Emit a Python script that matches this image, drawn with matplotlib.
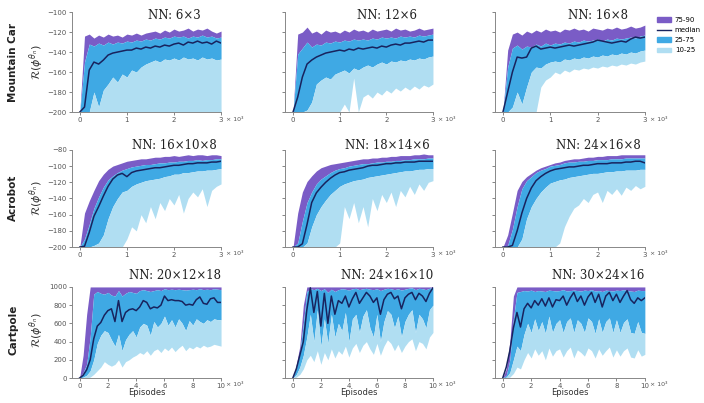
import numpy as np
import matplotlib
matplotlib.use("Agg")
import matplotlib.pyplot as plt
from matplotlib.patches import Patch
from matplotlib.lines import Line2D

# episode grids (x10^3)
x_short = [round(0.1 * i, 1) for i in range(31)]
x_long = [0.25 * i for i in range(41)]

# ---- Mountain Car ----
mc1_p90 = [-200, -124, -122, -126, -123, -125, -122, -124, -123, -125, -122, -123, -121, -123, -121, -120,
           -119, -121, -118, -120, -117, -119, -118, -116, -119, -117, -118, -116, -119, -121, -119]
mc1_p75 = [-200, -150, -132, -134, -131, -133, -130, -132, -130, -131, -129, -130, -128, -129, -127, -128,
           -126, -127, -125, -126, -124, -125, -124, -126, -124, -125, -123, -125, -124, -126, -125]
mc1_med = [-200, -195, -158, -150, -152, -148, -143, -141, -140, -139, -138, -138, -136, -137, -135, -136,
           -134, -135, -133, -134, -132, -131, -133, -130, -131, -129, -131, -130, -132, -129, -131]
mc1_p25 = [-200, -200, -200, -180, -195, -178, -172, -165, -170, -162, -165, -158, -160, -155, -152, -150,
           -148, -150, -147, -148, -146, -148, -145, -147, -146, -148, -145, -147, -146, -148, -147]
mc1_p10 = [-200] * 31

mc2_p90 = [-200, -122, -120, -115, -121, -119, -122, -118, -120, -119, -121, -118, -120, -117, -119, -118,
           -120, -117, -119, -118, -117, -119, -116, -118, -117, -119, -118, -116, -118, -117, -116]
mc2_p75 = [-200, -142, -136, -130, -135, -132, -133, -130, -131, -129, -130, -128, -129, -127, -128, -127,
           -128, -126, -127, -125, -126, -125, -126, -124, -125, -124, -125, -123, -124, -123, -122]
mc2_med = [-200, -185, -165, -152, -148, -145, -143, -141, -140, -139, -138, -139, -137, -138, -136, -137,
           -136, -135, -136, -134, -135, -133, -132, -133, -131, -131, -130, -129, -130, -128, -128]
mc2_p25 = [-200, -200, -200, -198, -190, -172, -168, -165, -167, -162, -160, -158, -161, -156, -158, -155,
           -153, -155, -152, -150, -152, -149, -150, -148, -149, -147, -148, -146, -147, -145, -144]
mc2_p10 = [-200, -200, -200, -200, -200, -200, -200, -200, -200, -200, -200, -192, -200, -166, -200, -185,
           -182, -186, -180, -183, -178, -181, -176, -179, -175, -178, -174, -177, -173, -175, -172]

mc3_p90 = [-200, -138, -122, -120, -123, -119, -121, -118, -120, -117, -119, -118, -120, -117, -118, -116,
           -118, -117, -119, -116, -117, -118, -116, -117, -115, -117, -116, -114, -116, -115, -113]
mc3_p75 = [-200, -155, -136, -133, -137, -134, -135, -132, -134, -131, -133, -131, -132, -130, -131, -129,
           -130, -128, -129, -128, -127, -129, -127, -128, -126, -127, -126, -125, -126, -124, -123]
mc3_med = [-200, -180, -160, -145, -146, -145, -136, -134, -137, -136, -135, -136, -135, -134, -133, -134,
           -133, -132, -131, -130, -128, -129, -130, -131, -130, -129, -130, -127, -125, -126, -125]
mc3_p25 = [-200, -200, -195, -180, -192, -175, -160, -155, -156, -152, -150, -149, -150, -147, -148, -146,
           -147, -145, -146, -144, -145, -143, -144, -142, -143, -141, -142, -140, -141, -139, -138]
mc3_p10 = [-200, -200, -200, -200, -200, -200, -200, -200, -175, -168, -165, -160, -162, -158, -160, -157,
           -158, -156, -157, -155, -156, -154, -155, -153, -154, -152, -153, -151, -152, -150, -149]

# ---- Acrobot ----
ac1_p90 = [-200, -158, -143, -130, -118, -110, -104, -100, -98, -96, -94, -93, -92, -91, -91, -90,
           -89, -89, -88, -88, -87, -88, -87, -86, -87, -86, -86, -87, -86, -86, -87]
ac1_p75 = [-200, -190, -172, -152, -138, -126, -117, -112, -108, -105, -103, -101, -100, -99, -98, -98,
           -97, -96, -96, -95, -95, -94, -94, -93, -93, -92, -93, -92, -92, -91, -91]
ac1_med = [-200, -199, -182, -162, -150, -137, -125, -116, -111, -109, -113, -108, -106, -105, -104, -103,
           -102, -102, -101, -100, -99, -99, -98, -97, -97, -96, -96, -96, -95, -95, -94]
ac1_p25 = [-200, -200, -200, -198, -195, -185, -165, -150, -140, -132, -130, -125, -122, -120, -118, -117,
           -116, -115, -113, -112, -110, -110, -108, -108, -107, -106, -106, -105, -105, -104, -103]
ac1_p10 = [-200, -200, -200, -200, -200, -200, -200, -200, -200, -200, -190, -175, -180, -160, -170, -150,
           -165, -145, -155, -140, -148, -135, -158, -140, -132, -138, -128, -150, -130, -125, -122]

ac2_p90 = [-200, -158, -132, -119, -112, -106, -102, -100, -98, -97, -96, -95, -94, -93, -92, -91,
           -91, -90, -90, -89, -89, -88, -88, -87, -87, -87, -86, -86, -85, -86, -86]
ac2_p75 = [-200, -195, -168, -145, -132, -122, -116, -112, -108, -105, -103, -102, -100, -99, -98, -97,
           -97, -96, -95, -95, -94, -94, -93, -93, -92, -92, -91, -91, -91, -90, -90]
ac2_med = [-200, -200, -196, -172, -145, -133, -126, -120, -115, -111, -108, -107, -105, -104, -103, -102,
           -100, -99, -99, -98, -97, -97, -96, -96, -95, -95, -95, -94, -94, -94, -94]
ac2_p25 = [-200, -200, -200, -195, -175, -160, -150, -142, -135, -130, -125, -122, -120, -118, -117, -116,
           -114, -113, -112, -111, -110, -109, -108, -107, -106, -106, -105, -104, -104, -103, -103]
ac2_p10 = [-200, -200, -200, -200, -200, -200, -200, -200, -200, -200, -195, -150, -165, -145, -170, -150,
           -175, -140, -155, -135, -145, -132, -150, -130, -138, -125, -135, -122, -130, -120, -118]

ac3_p90 = [-200, -185, -158, -130, -119, -113, -109, -105, -102, -100, -98, -96, -95, -93, -92, -91,
           -91, -90, -89, -89, -88, -88, -87, -87, -87, -86, -86, -86, -86, -86, -86]
ac3_p75 = [-200, -198, -178, -150, -128, -118, -113, -108, -105, -103, -100, -99, -98, -96, -95, -95,
           -94, -94, -93, -93, -92, -92, -92, -91, -91, -91, -90, -90, -90, -90, -90]
ac3_med = [-200, -200, -198, -180, -158, -140, -127, -118, -113, -109, -106, -104, -103, -102, -101, -101,
           -100, -99, -99, -98, -97, -97, -97, -96, -96, -96, -95, -95, -94, -94, -96]
ac3_p25 = [-200, -200, -200, -200, -190, -165, -150, -140, -132, -126, -121, -119, -117, -116, -114, -113,
           -112, -111, -110, -109, -109, -108, -107, -107, -106, -106, -105, -105, -105, -104, -104]
ac3_p10 = [-200, -200, -200, -200, -200, -200, -200, -200, -200, -200, -200, -200, -195, -175, -162, -152,
           -148, -140, -145, -135, -132, -145, -130, -135, -128, -136, -126, -130, -124, -128, -125]

# ---- Cartpole ----
cp1_p90 = [0, 250, 700] + [1000] * 38
cp1_p75 = [0, 60, 150, 450, 920, 950, 930, 920, 940, 910, 900, 960, 900, 930, 950, 940, 930, 960, 970, 960,
           950, 960, 970, 960, 980, 970, 975, 970, 975, 970, 965, 970, 975, 970, 980, 970, 975, 970, 980, 975, 970]
cp1_med = [0, 30, 90, 200, 430, 570, 610, 690, 740, 760, 620, 850, 620, 720, 750, 760, 740, 780, 850, 830,
           760, 780, 770, 800, 900, 850, 860, 850, 850, 840, 800, 810, 800, 860, 890, 820, 810, 870, 880, 830, 830]
cp1_p25 = [0, 10, 30, 80, 200, 380, 470, 520, 500, 420, 350, 480, 300, 420, 480, 520, 450, 560, 600, 580,
           470, 620, 560, 600, 680, 580, 640, 560, 650, 600, 520, 630, 580, 650, 620, 600, 640, 620, 650, 640, 640]
cp1_p10 = [0, 0, 0, 10, 40, 80, 120, 180, 150, 130, 150, 200, 120, 180, 200, 230, 250, 280, 260, 300,
           250, 300, 320, 280, 330, 300, 340, 290, 330, 360, 300, 340, 320, 350, 330, 360, 340, 350, 370, 360, 350]

cp2_p90 = [0, 150, 350, 800] + [1000] * 37
cp2_p75 = [0, 110, 280, 600, 950, 980, 970, 985, 960, 980, 940, 975, 950, 970, 980, 975, 965, 980, 985, 970,
           980, 985, 975, 970, 980, 960, 975, 985, 980, 970, 980, 965, 975, 985, 990, 970, 985, 980, 970, 985, 995]
cp2_med = [0, 100, 250, 400, 750, 990, 720, 950, 570, 930, 600, 900, 700, 850, 820, 900, 780, 870, 940, 820,
           880, 940, 900, 830, 880, 700, 860, 920, 940, 870, 900, 760, 880, 920, 940, 860, 930, 900, 840, 930, 990]
cp2_p25 = [0, 40, 120, 250, 450, 700, 400, 750, 350, 650, 380, 700, 450, 600, 520, 720, 400, 650, 700, 500,
           680, 750, 550, 450, 700, 400, 620, 740, 700, 550, 680, 450, 620, 700, 750, 500, 700, 650, 550, 750, 800]
cp2_p10 = [0, 10, 40, 100, 200, 250, 180, 300, 150, 280, 200, 320, 220, 300, 260, 350, 230, 330, 380, 280,
           360, 400, 320, 260, 380, 250, 350, 420, 380, 300, 370, 280, 350, 400, 430, 300, 400, 380, 320, 450, 500]

cp3_p90 = [0, 100, 400, 900] + [1000] * 37
cp3_p75 = [0, 30, 200, 650, 940, 950, 960, 955, 965, 950, 960, 955, 950, 965, 960, 955, 960, 970, 955, 960,
           965, 960, 955, 965, 960, 970, 955, 960, 950, 965, 960, 955, 965, 960, 970, 960, 955, 950, 965, 960, 960]
cp3_med = [0, 120, 300, 550, 720, 560, 760, 820, 770, 850, 800, 870, 790, 880, 780, 860, 850, 900, 800, 880,
           940, 840, 900, 800, 890, 940, 830, 920, 780, 900, 940, 850, 920, 830, 900, 960, 860, 820, 880, 850, 880]
cp3_p25 = [0, 10, 60, 200, 350, 300, 480, 600, 500, 650, 520, 620, 490, 680, 500, 600, 640, 500, 620, 660,
           500, 640, 600, 500, 660, 620, 490, 650, 500, 620, 660, 500, 640, 500, 610, 650, 500, 490, 620, 500, 490]
cp3_p10 = [0, 0, 10, 50, 120, 100, 200, 280, 220, 320, 250, 300, 200, 330, 240, 300, 320, 230, 300, 340,
           220, 310, 280, 240, 330, 300, 220, 320, 250, 300, 340, 230, 310, 240, 300, 330, 230, 220, 310, 240, 260]

row_names = ["Mountain Car", "Acrobot", "Cartpole"]
titles = [["NN: 6\u00d73", "NN: 12\u00d76", "NN: 16\u00d78"],
          ["NN: 16\u00d710\u00d78", "NN: 18\u00d714\u00d76", "NN: 24\u00d716\u00d78"],
          ["NN: 20\u00d712\u00d718", "NN: 24\u00d716\u00d710", "NN: 30\u00d724\u00d716"]]
panels = [[(mc1_p10, mc1_p25, mc1_med, mc1_p75, mc1_p90),
           (mc2_p10, mc2_p25, mc2_med, mc2_p75, mc2_p90),
           (mc3_p10, mc3_p25, mc3_med, mc3_p75, mc3_p90)],
          [(ac1_p10, ac1_p25, ac1_med, ac1_p75, ac1_p90),
           (ac2_p10, ac2_p25, ac2_med, ac2_p75, ac2_p90),
           (ac3_p10, ac3_p25, ac3_med, ac3_p75, ac3_p90)],
          [(cp1_p10, cp1_p25, cp1_med, cp1_p75, cp1_p90),
           (cp2_p10, cp2_p25, cp2_med, cp2_p75, cp2_p90),
           (cp3_p10, cp3_p25, cp3_med, cp3_p75, cp3_p90)]]
ylims = [(-200, -100), (-200, -80), (0, 1000)]
yticks = [list(range(-200, -99, 20)), list(range(-200, -79, 20)), list(range(0, 1001, 200))]
xticks = [[0, 1, 2, 3], [0, 1, 2, 3], [0, 2, 4, 6, 8, 10]]
xgrids = [x_short, x_short, x_long]
xlims = [(-0.17, 3), (-0.17, 3), (-0.55, 10)]
title_y = [0.97, 1.05, 1.13]

c_purple = "#7a5cc6"
c_blue = "#3fa9e4"
c_light = "#b0def2"
c_med = "#18235e"
c_tick = "#555555"

fig = plt.figure(figsize=(7.04, 4.03), dpi=100)

lefts = [0.102, 0.405, 0.703]
widths = [0.212, 0.210, 0.213]
rows_pos = [(0.722, 0.248), (0.387, 0.241), (0.062, 0.226)]

for r in range(3):
    for c in range(3):
        ax = fig.add_axes([lefts[c], rows_pos[r][0], widths[c], rows_pos[r][1]])
        p10, p25, med, p75, p90 = panels[r][c]
        x = xgrids[r]
        ax.fill_between(x, p75, p90, color=c_purple, lw=0)
        ax.fill_between(x, p25, p75, color=c_blue, lw=0)
        ax.fill_between(x, p10, p25, color=c_light, lw=0)
        ax.plot(x, med, color=c_med, lw=1.1)
        ax.set_xlim(*xlims[r])
        ax.set_ylim(*ylims[r])
        ax.set_xticks(xticks[r])
        ax.set_yticks(yticks[r])
        if c > 0:
            ax.set_yticklabels([])
        for s in ["top", "right"]:
            ax.spines[s].set_visible(False)
        for s in ["left", "bottom"]:
            ax.spines[s].set_color("#888888")
            ax.spines[s].set_linewidth(0.7)
        ax.tick_params(labelsize=5, colors=c_tick, length=2, width=0.5, pad=1.5)
        ax.text(0.69, title_y[r], titles[r][c], transform=ax.transAxes, ha="center",
                va="center", fontsize=8.5, family="DejaVu Serif", color="#222222")
        ax.text(1.035, -0.07, "\u00d7 10\u00b3", transform=ax.transAxes, ha="left", va="center",
                fontsize=4.5, color=c_tick)
        if r == 2:
            ax.text(0.5, -0.16, "Episodes", transform=ax.transAxes, ha="center", va="center",
                    fontsize=6, color="#333333")

row_centers = [0.846, 0.509, 0.181]
for r in range(3):
    fig.text(0.019, row_centers[r], row_names[r], rotation=90, ha="center", va="center",
             fontsize=7.5, fontweight="bold", color="#222222")
    fig.text(0.052, row_centers[r], r"$\mathcal{R}(\phi^{\theta_n})$", rotation=90, ha="center",
             va="center", fontsize=8, color="#333333")

handles = [Patch(color=c_purple), Line2D([], [], color=c_med, lw=1.0),
           Patch(color=c_blue), Patch(color=c_light)]
labels = ["75-90", "median", "25-75", "10-25"]
fig.legend(handles, labels, loc="upper left", bbox_to_anchor=(0.93, 0.965), frameon=False,
           fontsize=5, handlelength=2.0, handleheight=0.7, labelspacing=0.6, handletextpad=0.5,
           borderaxespad=0)

fig.savefig("out.png", dpi=100)
